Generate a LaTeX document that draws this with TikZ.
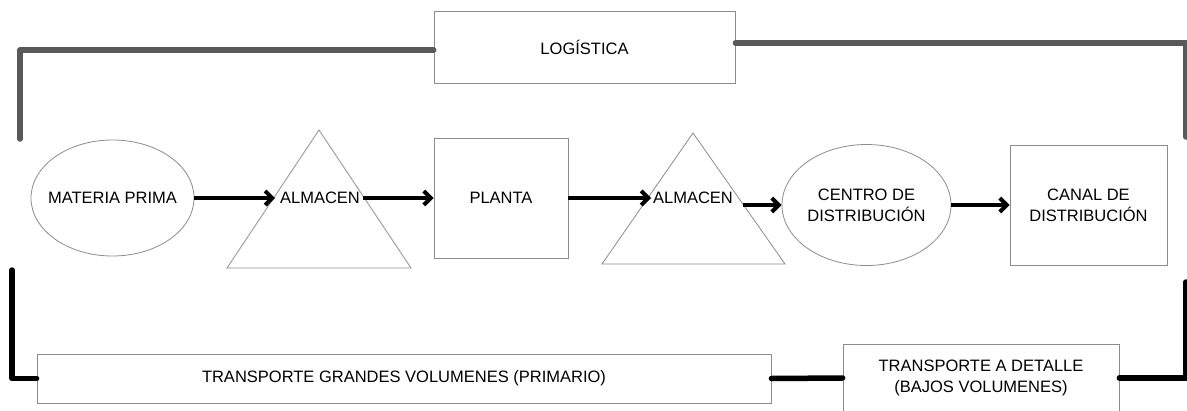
\documentclass[tikz,border=0pt]{standalone}
\usepackage{fontspec}
\setmainfont{Liberation Sans}
\usetikzlibrary{shapes.geometric,arrows.meta}
\definecolor{outl}{RGB}{140,140,140}
\definecolor{gline}{RGB}{89,89,89}
\tikzset{
  base/.style={font=\fontsize{16.5}{21}\selectfont, align=center, inner sep=0pt},
  boxn/.style={base, draw=outl, line width=0.8pt, rectangle},
  ell/.style={draw=outl, line width=0.8pt, ellipse, inner sep=0pt},
  tri/.style={draw=outl, line width=0.8pt, line join=miter},
  lbl/.style={base},
  arr/.style={line width=4pt, -{Straight Barb[length=7pt,width=14pt]}},
  grayline/.style={draw=gline, line width=5.5pt, line cap=round, line join=round},
  blackline/.style={draw=black, line width=5.5pt, line cap=round, line join=round},
}
\begin{document}
\begin{tikzpicture}[x=1pt,y=-1pt]
\useasboundingbox (0,0) rectangle (1187,410);
% top logistics
\node[boxn, minimum width=301, minimum height=72] (lg) at (584.5,47) {LOG\'ISTICA};
\coordinate (tlc) at (20,139);
\coordinate (trc) at (1186,137);
\draw[grayline] ([yshift=-3pt]lg.west) -| (tlc);
\draw[grayline] ([yshift=4pt]lg.east) -| (trc);
% main row
\node[ell, minimum width=163, minimum height=116] (mp) at (112.5,198) {};
\node[lbl] (mpt) at (mp.center) {MATERIA PRIMA};
\draw[tri] (319,130) -- (411,268) -- (227,268) -- cycle;
\node[lbl] (al1) at (320,198) {ALMACEN};
\node[boxn, minimum width=134, minimum height=120] (pl) at (501,198) {PLANTA};
\draw[tri] (693,133) -- (785,264) -- (602,264) -- cycle;
\node[lbl] (al2) at (693,198) {ALMACEN};
\node[ell, minimum width=169, minimum height=121] (cd) at (866.5,205) {};
\node[lbl] (cdt) at (cd.center) {CENTRO DE\\DISTRIBUCI\'ON};
\node[boxn, minimum width=157, minimum height=120] (cn) at (1088.5,205) {CANAL DE\\DISTRIBUCI\'ON};
\coordinate (a1e) at (275,198);
\coordinate (a2s) at (363,198);
\coordinate (a3e) at (651,198);
\coordinate (a4s) at (743,205);
\draw[arr] (mp.east) -- (a1e);
\draw[arr] (a2s) -- (pl.west);
\draw[arr] (pl.east) -- (a3e);
\draw[arr] (a4s) -- (cd.west);
\draw[arr] (cd.east) -- (cn.west);
% bottom transport
\node[boxn, minimum width=734, minimum height=49] (tg) at (404,378.5) {TRANSPORTE GRANDES VOLUMENES (PRIMARIO)};
\node[boxn, minimum width=276, minimum height=68] (td) at (981,378) {TRANSPORTE A DETALLE\\(BAJOS VOLUMENES)};
\coordinate (blc) at (12,270);
\coordinate (brc) at (1186,282);
\draw[blackline] (blc) |- (tg.west);
\draw[blackline] (tg.east) -- (td.west);
\draw[blackline] (td.east) -| (brc);
\end{tikzpicture}
\end{document}
